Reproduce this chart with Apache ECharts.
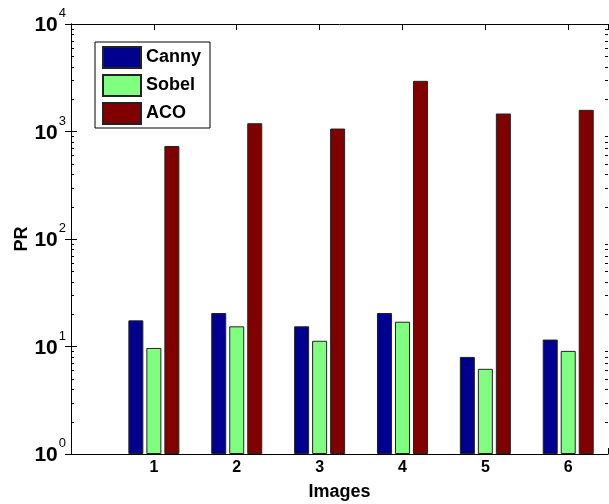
<!DOCTYPE html>
<html>
<head>
<meta charset="utf-8">
<script src="https://cdn.jsdelivr.net/npm/echarts@6/dist/echarts.min.js"></script>
<style>
  html, body { margin: 0; padding: 0; background: #fff; }
  #chart { width: 609px; height: 504px; }
</style>
</head>
<body>
<div id="chart"></div>
<script>
const categories = [1, 2, 3, 4, 5, 6]
const canny = [17.5, 20.5, 15.4, 20.5, 8.0, 11.6]
const sobel = [9.7, 15.4, 11.3, 17.0, 6.2, 9.1]
const aco = [733, 1194, 1065, 2960, 1470, 1590]
const yTicks = [1, 10, 100, 1000, 10000]

const font = 'Liberation Sans, Arial, sans-serif'
const chart = echarts.init(document.getElementById('chart'))

const pairs = (vals) => categories.map((c, i) => [c, vals[i]])
const barBase = {
  type: 'bar',
  barWidth: 15,
  barGap: '20%',
  itemStyle: { borderColor: '#222', borderWidth: 1 },
  animation: false,
}

chart.setOption({
  backgroundColor: '#fff',
  textStyle: { fontFamily: font },
  grid: { left: 71, right: 1, top: 24, bottom: 50, outerBoundsMode: 'none' },
  legend: {
    orient: 'vertical',
    left: 95,
    top: 42,
    padding: [4, 9, 3, 7],
    itemWidth: 38,
    itemHeight: 21,
    itemGap: 5,
    icon: 'rect',
    borderColor: '#000',
    borderWidth: 1,
    backgroundColor: '#fff',
    textStyle: { fontSize: 18, fontWeight: 'bold', color: '#000', fontFamily: font },
    data: ['Canny', 'Sobel', 'ACO'],
  },
  xAxis: [
    {
      type: 'value',
      min: 0,
      max: 6.48,
      interval: 1,
      name: 'Images',
      nameLocation: 'middle',
      nameGap: 29,
      nameMoveOverlap: false,
      nameTextStyle: { fontSize: 18, fontWeight: 'bold', color: '#000' },
      splitLine: { show: false },
      axisLine: { lineStyle: { color: '#000' } },
      axisTick: { inside: true, length: 6, lineStyle: { color: '#000' } },
      axisLabel: {
        margin: 6,
        fontSize: 16,
        fontWeight: 'bold',
        color: '#000',
        formatter: (v) => (categories.includes(v) ? String(v) : ''),
      },
    },
    {
      type: 'value',
      position: 'top',
      min: 0,
      max: 6.48,
      interval: 1,
      splitLine: { show: false },
      axisLine: { lineStyle: { color: '#000' } },
      axisTick: { inside: true, length: 6, lineStyle: { color: '#000' } },
      axisLabel: { show: false },
    },
  ],
  yAxis: [
    {
      type: 'log',
      logBase: 10,
      min: yTicks[0],
      max: yTicks[yTicks.length - 1],
      name: 'PR',
      nameLocation: 'middle',
      nameGap: 40,
      nameMoveOverlap: false,
      nameTextStyle: { fontSize: 18, fontWeight: 'bold', color: '#000' },
      splitLine: { show: false },
      axisLine: { show: true, lineStyle: { color: '#000' } },
      axisTick: { show: true, inside: true, length: 6, lineStyle: { color: '#000' } },
      axisLabel: {
        margin: 5,
        formatter: (v) => '{b|10}{s|' + Math.round(Math.log10(v)) + '}',
        rich: {
          b: { fontSize: 21, fontWeight: 'bold', color: '#000', verticalAlign: 'bottom', padding: [8, 1, 5, 0] },
          s: { fontSize: 13, color: '#000', verticalAlign: 'top' },
        },
      },
    },
    {
      type: 'log',
      logBase: 10,
      position: 'right',
      min: yTicks[0],
      max: yTicks[yTicks.length - 1],
      splitLine: { show: false },
      axisLine: { show: true, lineStyle: { color: '#000' } },
      axisTick: { show: true, inside: true, length: 6, lineStyle: { color: '#000' } },
      axisLabel: { show: false },
    },
  ],
  series: [
    { ...barBase, name: 'Canny', color: '#00008f', data: pairs(canny) },
    { ...barBase, name: 'Sobel', color: '#80ff80', data: pairs(sobel) },
    { ...barBase, name: 'ACO', color: '#800000', data: pairs(aco) },
  ],
})

// minor log ticks (2..9 per decade) on both vertical edges, placed through the axis scale
function drawMinorTicks() {
  const xl = chart.convertToPixel({ xAxisIndex: 0 }, 0)
  const xr = chart.convertToPixel({ xAxisIndex: 0 }, 6.48)
  const lines = []
  for (let d = 0; d < yTicks.length - 1; d++) {
    for (let m = 2; m <= 9; m++) {
      const y = Math.round(chart.convertToPixel({ yAxisIndex: 0 }, yTicks[d] * m)) + 0.5
      lines.push({ type: 'line', shape: { x1: xl, y1: y, x2: xl + 3, y2: y }, style: { stroke: '#000', lineWidth: 1 } })
      lines.push({ type: 'line', shape: { x1: xr - 3, y1: y, x2: xr, y2: y }, style: { stroke: '#000', lineWidth: 1 } })
    }
  }
  chart.setOption({ graphic: lines })
}
drawMinorTicks()
</script>
</body>
</html>
